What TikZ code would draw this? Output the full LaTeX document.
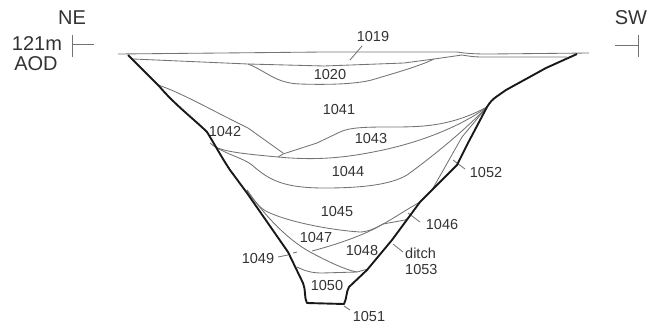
\documentclass[tikz,border=0pt]{standalone}
\usepackage{fontspec}
\setmainfont{Liberation Sans}
\begin{document}
\begin{tikzpicture}[x=1pt,y=-1pt,
    thin line/.style={draw=black!55,line width=0.85pt,line join=round},
    cut line/.style={draw=black!90,line width=1.9pt,line join=round},
    main node/.style={font=\fontsize{14.5}{16}\selectfont,text=black!80,inner sep=0pt},
    big node/.style={font=\fontsize{20}{21}\selectfont,text=black!80,inner sep=0pt}]
    \useasboundingbox (0,0) rectangle (648,330);

    % Define labels
    \node[big node] (NE) at (72,18) {NE};
    \node[big node] (height) at (37,44) {121m};
    \node[big node] (AOD) at (36,64) {AOD};
    \node[big node] (SW) at (631,18) {SW};
    \node[main node] (1019) at (373,37) {1019};
    \node[main node] (1020) at (330,75) {1020};
    \node[main node] (1041) at (339,110) {1041};
    \node[main node] (1042) at (225,132) {1042};
    \node[main node] (1043) at (371,139) {1043};
    \node[main node] (1044) at (348,172) {1044};
    \node[main node] (1045) at (337,212) {1045};
    \node[main node] (1046) at (442,225) {1046};
    \node[main node] (1047) at (316,238) {1047};
    \node[main node] (1048) at (362,251) {1048};
    \node[main node] (1049) at (258,259) {1049};
    \node[main node] (1050) at (327,286) {1050};
    \node[main node] (1051) at (369,317) {1051};
    \node[main node] (1052) at (486,173) {1052};
    \node[main node,align=left,anchor=west] (ditch) at (405,261) {ditch\\1053};

    % Define free ends
    \coordinate (tickNEa) at (72,35);
    \coordinate (tickNEb) at (72,57);
    \coordinate (tickNEm) at (72,44);
    \coordinate (tickNEc) at (94,44);
    \coordinate (tickSWa) at (638,35);
    \coordinate (tickSWb) at (638,57);
    \coordinate (tickSWm) at (638,45);
    \coordinate (tickSWc) at (615,45);
    \coordinate (lead1019a) at (362,46);
    \coordinate (lead1019b) at (350,60);
    \coordinate (lead1046a) at (420,222);
    \coordinate (lead1046b) at (408,213);
    \coordinate (lead1053a) at (403,252);
    \coordinate (lead1053b) at (393,244);
    \coordinate (lead1049a) at (278,257);
    \coordinate (lead1049b) at (288,255);
    \coordinate (lead1049c) at (293,253);
    \coordinate (lead1049d) at (297,252);
    \coordinate (lead1051a) at (350,310);
    \coordinate (lead1051b) at (344,306);
    \coordinate (lead1052a) at (465,169);
    \coordinate (lead1052b) at (453,160);

    % Define shared points
    \coordinate (lipNE) at (128,55);
    \coordinate (lipSW) at (577,54);
    \coordinate (pinch) at (487,107);
    \coordinate (sag) at (247,190);

    % Draw ticks
    \draw[thin line] (tickNEa) -- (tickNEb);
    \draw[thin line] (tickNEm) -- (tickNEc);
    \draw[thin line] (tickSWa) -- (tickSWb);
    \draw[thin line] (tickSWm) -- (tickSWc);

    % Draw layers
    \draw[thin line] (118,54) -- (324,52) -- (457,52) .. controls (470,54) and (480,54) .. (490,54) -- (589,53);
    \draw[thin line] (133,59) -- (248,64) -- (324,66) -- (404,63) -- (434,59)
        -- (462,55) .. controls (468,56) and (474,57) .. (481,57) -- (567,57);
    \draw[thin line] (248,64) .. controls (268,72) and (275,83) .. (300,84)
        .. controls (330,85) and (360,84) .. (375,79)
        .. controls (395,73) and (420,66) .. (434,59);
    \draw[thin line] (158,85) .. controls (180,92) and (215,112) .. (248,128) -- (283,153);
    \draw[thin line] (278,157) -- (283,154) -- (317,143) -- (340,132)
        .. controls (350,127) and (370,127) .. (390,127)
        .. controls (420,127) and (450,127) .. (pinch);
    \draw[thin line] (210,143) .. controls (218,151) and (235,153) .. (278,157)
        .. controls (320,161) and (350,157) .. (383,150)
        .. controls (420,142) and (460,127) .. (pinch);
    \draw[thin line] (214,146) .. controls (228,155) and (243,158) .. (252,165)
        .. controls (270,181) and (285,188) .. (325,188)
        .. controls (365,188) and (392,184) .. (407,175)
        .. controls (425,162) and (460,135) .. (pinch);
    \draw[thin line] (432,190) -- (462,137) -- (pinch);
    \draw[thin line] (sag) .. controls (256,204) and (262,210) .. (270,213)
        .. controls (290,222) and (330,230) .. (360,232)
        .. controls (375,232) and (395,216) .. (420,202);
    \draw[thin line] (sag) .. controls (262,212) and (285,238) .. (310,252)
        .. controls (325,260) and (345,270) .. (357,272);
    \draw[thin line] (312,251) .. controls (335,245) and (365,235) .. (383,224)
        -- (405,220) -- (409,218);
    \draw[thin line] (297,267) .. controls (305,271) and (312,273) .. (322,273)
        -- (357,272) -- (368,269);

    % Draw leader lines
    \draw[thin line] (lead1019a) -- (lead1019b);
    \draw[thin line] (lead1046a) -- (lead1046b);
    \draw[thin line] (lead1053a) -- (lead1053b);
    \draw[thin line] (lead1049a) -- (lead1049b);
    \draw[thin line] (lead1049c) -- (lead1049d);
    \draw[thin line] (lead1051a) -- (lead1051b);
    \draw[thin line] (lead1052a) -- (lead1052b);

    % Draw cut
    \draw[cut line] (lipNE) -- (159,86) .. controls (175,105) and (195,120) .. (207,132)
        .. controls (215,145) and (222,158) .. (230,170)
        -- (247,193) -- (288,252) -- (303,283)
        .. controls (306,290) and (304,298) .. (307,303) -- (344,304)
        .. controls (347,298) and (346,292) .. (349,287)
        -- (367,270) -- (392,240) -- (420,202) -- (430,192)
        -- (457,165) -- (468,143) -- (pinch)
        .. controls (490,102) and (493,99) .. (496,97)
        -- (506,90) -- (546,68) -- (lipSW);
\end{tikzpicture}
\end{document}
